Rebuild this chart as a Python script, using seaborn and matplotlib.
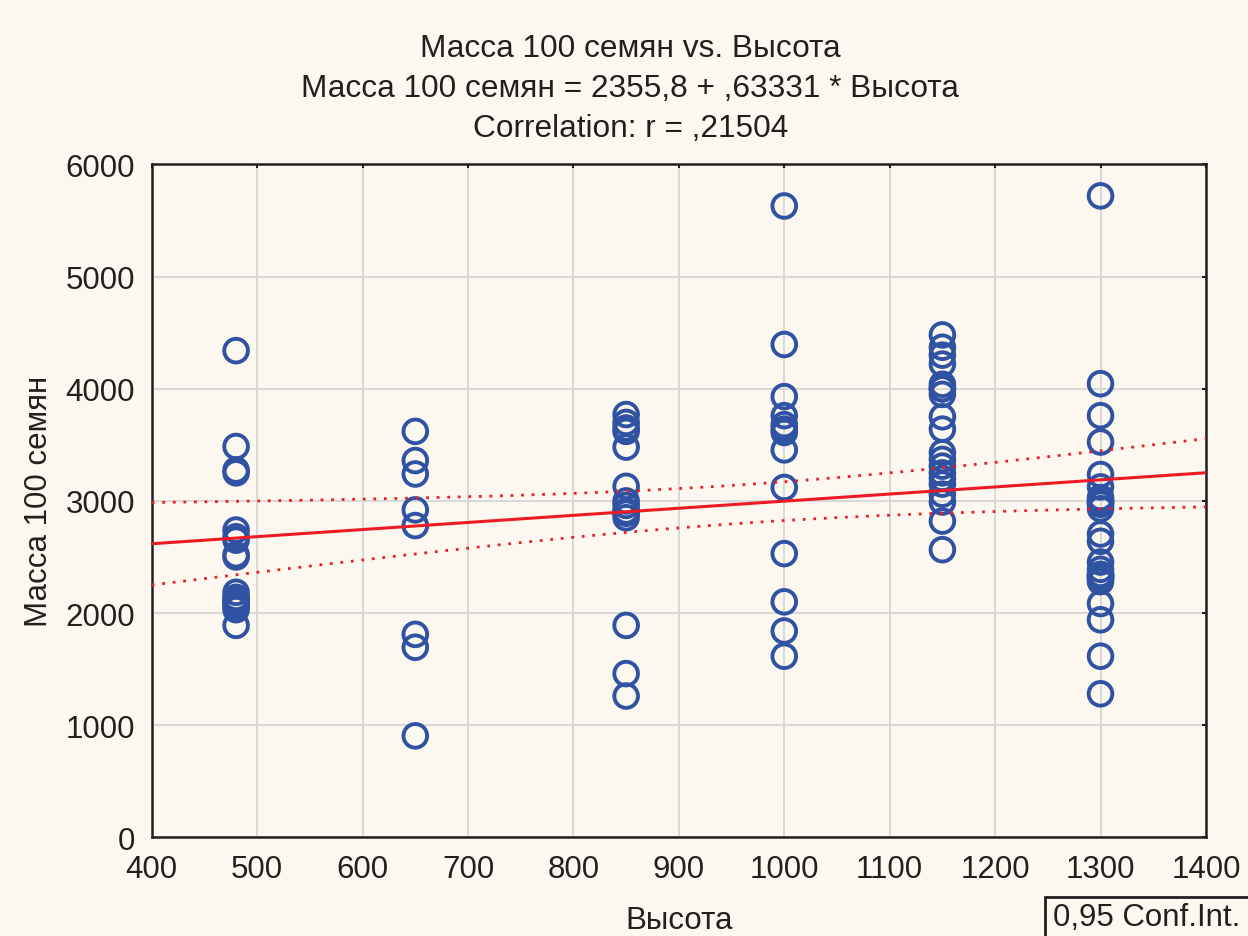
import numpy as np
import pandas as pd
import seaborn as sns
import matplotlib.pyplot as plt
from matplotlib.patches import Rectangle

# Высота (x) -> Масса 100 семян (y)
# (в плотных группах кружки перекрываются, часть точек совпадает)
h480 = [4340, 3485, 3275, 3250, 2740, 2680, 2650, 2520, 2500, 2185, 2140, 2120,
        2100, 2100, 2080, 2060, 2030, 1890]
h650 = [3620, 3360, 3240, 2920, 2780, 1810, 1695, 905]
h850 = [3770, 3700, 3650, 3620, 3480, 3130, 3000, 2960, 2910, 2900, 2890, 2850,
        1890, 1460, 1260]
h1000 = [5630, 4395, 3930, 3760, 3680, 3640, 3610, 3455, 3120, 2530, 2100, 1840, 1615]
h1150 = [4480, 4370, 4300, 4220, 4040, 4000, 4000, 3950, 3750, 3640, 3430, 3370,
         3310, 3250, 3200, 3150, 3060, 2990, 2820, 2565]
h1300 = [5720, 4045, 3760, 3525, 3235, 3125, 3030, 3000, 3000, 2980, 2970, 2930,
         2705, 2640, 2455, 2390, 2345, 2340, 2330, 2320, 2310, 2280, 2085, 1940,
         1615, 1280]

heights = [480, 650, 850, 1000, 1150, 1300]
groups = [h480, h650, h850, h1000, h1150, h1300]

x_ticks = list(range(400, 1401, 100))
y_ticks = list(range(0, 6001, 1000))

df = pd.DataFrame({
    'Высота': np.concatenate([[h] * len(g) for h, g in zip(heights, groups)]),
    'Масса 100 семян': np.concatenate(groups),
})

bg = '#FCF8F0'
blue = '#2F52A2'
red = '#ED1C24'
ink = '#231F20'

sns.set_theme(style='white')
plt.rcParams['font.family'] = ['Liberation Sans', 'DejaVu Sans']

fig, ax = plt.subplots(figsize=(12.48, 9.37), dpi=100)
fig.subplots_adjust(left=0.1216, right=0.9663, top=0.8234, bottom=0.1053)
fig.patch.set_facecolor(bg)
ax.set_facecolor(bg)

# линейная регрессия и 95% доверительные границы
x = df['Высота'].to_numpy(float)
y = df['Масса 100 семян'].to_numpy(float)
n = len(x)
b1, b0 = np.polyfit(x, y, 1)
resid = y - (b0 + b1 * x)
s = np.sqrt((resid ** 2).sum() / (n - 2))
sxx = ((x - x.mean()) ** 2).sum()
xs = np.linspace(400, 1400, 200)
fit = b0 + b1 * xs
half = 1.988 * s * np.sqrt(1 / n + (xs - x.mean()) ** 2 / sxx)

ax.plot(xs, fit, color=red, lw=2.2, zorder=4)
ax.plot(xs, fit + half, color=red, lw=2.0, ls=(0, (1, 2.8)), zorder=4)
ax.plot(xs, fit - half, color=red, lw=2.0, ls=(0, (1, 2.8)), zorder=4)

sns.scatterplot(data=df, x='Высота', y='Масса 100 семян', ax=ax, s=290,
                marker='o', linewidth=2.8, zorder=3)
ax.collections[-1].set_facecolor('none')
ax.collections[-1].set_edgecolor(blue)

ax.set_xlim(400, 1400)
ax.set_ylim(0, 6000)
ax.set_xticks(x_ticks)
ax.set_yticks(y_ticks)
ax.grid(True, color='#D9D9D9', lw=1.4)
ax.set_axisbelow(True)
for sp in ax.spines.values():
    sp.set_visible(True)
    sp.set_color(ink)
    sp.set_linewidth(1.8)
ax.tick_params(direction='in', length=3, width=1.5, top=True, right=True,
               labelsize=22.5, labelcolor=ink, color=ink, pad=12)

ax.set_xlabel('Высота', fontsize=22.5, color=ink, labelpad=15)
ax.set_ylabel('Масса 100 семян', fontsize=22.5, color=ink, labelpad=8)

fig.text(0.505, 0.905,
         'Масса 100 семян vs. Высота\n'
         'Масса 100 семян = 2355,8 + ,63331 * Высота\n'
         'Correlation: r = ,21504',
         ha='center', va='center', fontsize=22.8, color=ink, linespacing=1.44)

fig.add_artist(Rectangle((1045 / 1248, -0.05), 0.2, 1 - 898 / 937 + 0.05,
                         transform=fig.transFigure, fill=False, ec=ink, lw=2))
fig.text(1053 / 1248, 1 - 918 / 937, '0,95 Conf.Int.', va='center',
         fontsize=22.5, color=ink)

fig.savefig('out.png', dpi=100, facecolor=bg)
